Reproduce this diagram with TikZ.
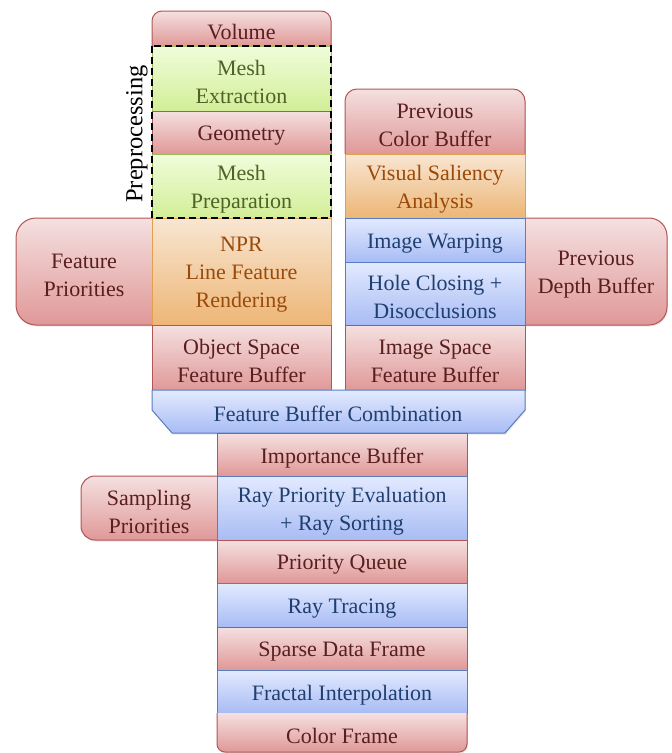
\documentclass[tikz,border=0pt]{standalone}
\usepackage{fontspec}
\setmainfont{Liberation Serif}
\usetikzlibrary{shadows}
\definecolor{redtop}{HTML}{F5E0E0}
\definecolor{redbot}{HTML}{E09898}
\definecolor{redline}{HTML}{B45555}
\definecolor{redtext}{HTML}{5A1E1E}
\definecolor{bluetop}{HTML}{E3EAFF}
\definecolor{bluebot}{HTML}{A8BCF4}
\definecolor{blueline}{HTML}{5A7CC4}
\definecolor{bluetext}{HTML}{1F3F70}
\definecolor{orangetop}{HTML}{F8E6D2}
\definecolor{orangebot}{HTML}{EDB676}
\definecolor{orangeline}{HTML}{E0A050}
\definecolor{orangetext}{HTML}{9A4A0A}
\definecolor{greentop}{HTML}{F0FDDA}
\definecolor{greenbot}{HTML}{D2EE98}
\definecolor{greenline}{HTML}{9CBC55}
\definecolor{greentext}{HTML}{4F6228}
\begin{document}
\begin{tikzpicture}[x=1pt,y=-1pt,
    lbl/.style={align=center,inner sep=0pt,font=\fontsize{22}{28}\selectfont},
    redlbl/.style={lbl,text=redtext},
    bluelbl/.style={lbl,text=bluetext},
    orangelbl/.style={lbl,text=orangetext},
    greenlbl/.style={lbl,text=greentext},
    fillbase/.style={line width=1pt,drop shadow={opacity=0.2,shadow xshift=0.8pt,shadow yshift=-1.5pt}},
    redfill/.style={fillbase,draw=redline,top color=redtop,bottom color=redbot},
    bluefill/.style={fillbase,draw=blueline,top color=bluetop,bottom color=bluebot},
    orangefill/.style={fillbase,draw=orangeline,top color=orangetop,bottom color=orangebot},
    greenfill/.style={fillbase,draw=greenline,top color=greentop,bottom color=greenbot}]
  \useasboundingbox (0,0) rectangle (672,753);
  \path[redfill] [rounded corners=12pt] (525,154) -- (525,89) -- (345,89) -- (345,154);
  \path[redfill] [rounded corners=20pt] (152,218) -- (16,218) -- (16,325) -- (152,325);
  \path[redfill] [rounded corners=18pt] (525,218) -- (667,218) -- (667,325) -- (525,325);
  \path[redfill] [rounded corners=14pt] (217,476) -- (81,476) -- (81,540) -- (217,540);
  \path[redfill] [rounded corners=10pt] (331,46) -- (331,11) -- (152,11) -- (152,46);
  \path[greenfill] (152,46) rectangle (331,111);
  \path[redfill] (152,111) rectangle (331,154);
  \path[greenfill] (152,154) rectangle (331,218);
  \path[orangefill] (345,154) rectangle (525,218);
  \path[bluefill] (345,218) rectangle (525,262);
  \path[bluefill] (345,262) rectangle (525,325);
  \path[orangefill] (152,218) rectangle (331,325);
  \path[redfill] (152,325) rectangle (331,390);
  \path[redfill] (345,325) rectangle (525,390);
  \path[bluefill] (152,390) -- (525,390) -- (525,410) -- (505,433) -- (172,433) -- (152,410) -- cycle;
  \path[redfill] (217,433) rectangle (467,476);
  \path[bluefill] (217,476) rectangle (467,540);
  \path[redfill] (217,540) rectangle (467,583);
  \path[bluefill] (217,583) rectangle (467,627);
  \path[redfill] (217,627) rectangle (467,670);
  \path[bluefill] (217,670) rectangle (467,713);
  \path[redfill] [rounded corners=8pt] (217,713) -- (217,752) -- (467,752) -- (467,713);
  \draw[line width=2pt,dash pattern=on 7pt off 4pt] (152,46) rectangle (331,218);
  \path (241.5,32) node[redlbl](volume){Volume};
  \path (241.5,82) node[greenlbl](meshext){Mesh\\Extraction};
  \path (241.5,136) node[redlbl](geometry){Geometry};
  \path (241.5,189.5) node[greenlbl](meshprep){Mesh\\Preparation};
  \path (241.5,275) node[orangelbl](npr){NPR\\Line Feature\\Rendering};
  \path (241.5,361) node[redlbl](osfb){Object Space\\Feature Buffer};
  \path (84,275) node[redlbl](featprio){Feature\\Priorities};
  \path (435,125) node[redlbl](prevcolor){Previous\\Color Buffer};
  \path (435,189.5) node[orangelbl](saliency){Visual Saliency\\Analysis};
  \path (435,243.5) node[bluelbl](warping){Image Warping};
  \path (435,297) node[bluelbl](holes){Hole Closing +\\Disocclusions};
  \path (435,361) node[redlbl](isfb){Image Space\\Feature Buffer};
  \path (596,275) node[redlbl](prevdepth){Previous\\Depth Buffer};
  \path (338,414) node[bluelbl](combine){Feature Buffer Combination};
  \path (342,458) node[redlbl](importance){Importance Buffer};
  \path (342,511.5) node[bluelbl](raysort){Ray Priority Evaluation\\+ Ray Sorting};
  \path (149,511.5) node[redlbl](sampprio){Sampling\\Priorities};
  \path (342,565) node[redlbl](pqueue){Priority Queue};
  \path (342,608.5) node[bluelbl](raytrace){Ray Tracing};
  \path (342,652) node[redlbl](sparse){Sparse Data Frame};
  \path (342,695) node[bluelbl](fractal){Fractal Interpolation};
  \path (342,735.5) node[redlbl](colorframe){Color Frame};
  \path (137,134) node[lbl,rotate=90,font=\fontsize{24.5}{28}\selectfont](prep){Preprocessing};
\end{tikzpicture}
\end{document}
